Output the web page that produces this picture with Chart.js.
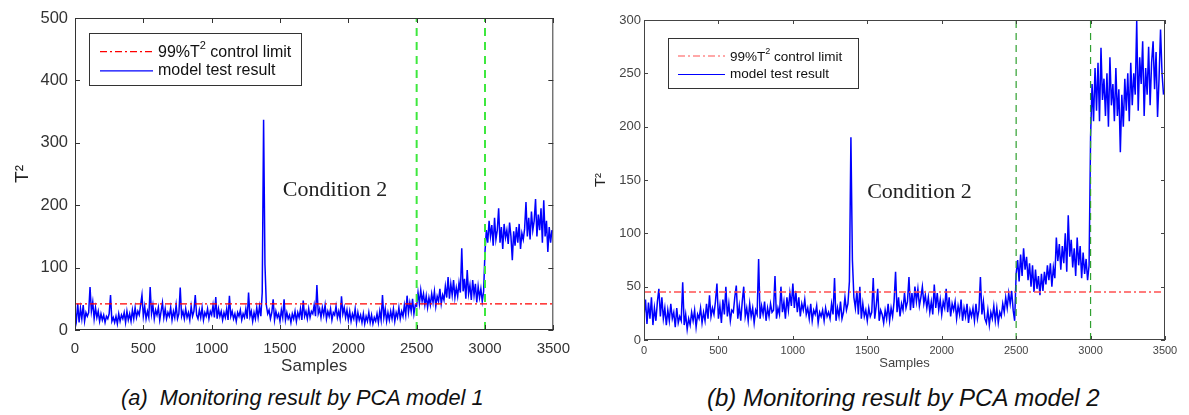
<!DOCTYPE html>
<html>
<head>
<meta charset="utf-8">
<script src="https://cdn.jsdelivr.net/npm/chart.js@4.4.1/dist/chart.umd.min.js"></script>
<style>
  html, body { margin: 0; padding: 0; background: #fff; }
  body { width: 1189px; height: 415px; position: relative; overflow: hidden; font-family: "Liberation Sans", Arial, sans-serif; }
  .panel { position: absolute; top: 0; }
  #wrapA { left: 0; }
  #wrapB { left: 590px; }
  .caption { position: absolute; font-style: italic; color: #111; white-space: pre; line-height: 1; }
</style>
</head>
<body>
<div class="panel" id="wrapA"><canvas id="chartA" width="580" height="378"></canvas></div>
<div class="panel" id="wrapB"><canvas id="chartB" width="599" height="378"></canvas></div>
<div class="caption" style="left:121px; top:387px; font-size:21.8px">(a)  Monitoring result by PCA model 1</div>
<div class="caption" style="left:707px; top:386px; font-size:24px">(b) Monitoring result by PCA model 2</div>
<script>
// sample spacing of the values below (one value read every 10 samples)
const STEP = 10;
const X_MAX = 3500;
const FAULT_STARTS = [2500, 3000];

// T2 statistic, PCA model 1 (samples 0..3490)
const model1T2 = [
  30,15,42,12,35,18,40,14,28,22,
  28,69,30,45,18,36,20,30,14,26,
  16,24,12,22,18,26,56,14,20,12,
  22,10,26,14,24,18,28,12,30,16,
  26,14,32,18,36,20,30,24,40,56,
  22,38,18,30,20,69,26,40,18,32,
  24,36,16,30,44,20,34,18,28,22,
  36,16,30,20,40,18,26,68,22,30,
  18,34,20,28,16,38,22,30,56,24,
  18,32,20,36,16,28,22,34,18,30,
  24,40,20,53,18,34,22,30,16,28,
  20,34,16,55,22,30,18,26,14,28,
  22,32,16,26,20,34,18,60,22,30,
  14,28,18,36,20,38,22,60,337,105,
  40,26,32,18,28,49,16,30,20,26,
  14,32,20,49,16,28,18,24,12,26,
  18,30,14,28,20,34,16,47,22,30,
  18,34,20,30,26,40,22,72,26,34,
  20,36,24,40,18,30,22,34,16,28,
  24,38,20,30,18,54,26,36,20,32,
  16,30,14,26,18,34,12,28,16,24,
  12,26,10,22,14,28,12,24,10,20,
  14,26,12,30,16,56,20,34,14,28,
  16,30,18,34,14,28,20,36,18,30,
  22,40,24,55,28,44,30,50,26,40,
  38,60,42,64,46,58,40,55,36,52,
  40,58,44,62,38,54,46,66,42,56,
  48,70,52,85,50,74,56,80,52,68,
  54,76,60,131,62,82,50,96,58,72,
  48,80,56,74,44,70,52,66,46,62,
  125,160,140,175,150,168,135,180,145,160,
  195,140,165,130,170,148,160,138,172,150,
  112,158,135,165,140,170,130,155,145,162,
  205,150,180,145,190,160,175,210,150,185,
  160,195,140,208,150,175,125,165,140,160
];

// T2 statistic, PCA model 2 (samples 0..3490)
const model2T2 = [
  22,38,15,35,20,40,14,30,18,36,
  48,22,40,20,30,14,28,18,34,20,
  26,12,30,16,22,18,54,14,24,10,
  20,14,26,18,28,12,24,20,30,16,
  26,18,34,20,42,22,30,24,36,53,
  20,32,16,38,24,50,22,34,18,28,
  26,40,51,20,32,18,36,50,22,30,
  18,34,22,30,16,28,24,76,20,32,
  24,36,18,30,22,34,26,28,60,20,
  30,24,50,26,36,20,40,28,44,32,
  53,30,46,26,40,22,34,28,38,24,
  30,20,34,18,28,24,32,16,26,22,
  28,18,30,22,26,20,34,24,58,18,
  30,22,36,20,26,40,28,34,55,190,
  75,40,30,46,24,50,20,34,22,28,
  18,30,22,26,58,20,32,48,18,28,
  24,16,28,20,34,18,30,22,36,64,
  26,40,22,34,28,44,30,36,59,28,
  44,30,50,36,48,32,40,50,34,42,
  30,40,26,36,24,52,30,44,28,38,
  24,36,30,48,26,40,22,34,28,36,
  20,32,24,38,18,30,22,34,16,28,
  22,30,18,34,20,28,59,24,36,20,
  16,28,14,26,20,32,18,30,16,26,
  22,34,26,40,30,44,34,46,28,18,
  62,75,55,80,60,86,66,78,56,72,
  50,70,45,66,48,60,42,62,46,64,
  52,70,56,72,50,68,58,96,74,90,
  66,88,72,100,64,117,78,94,68,86,
  60,96,70,88,58,82,62,76,56,70,
  190,240,205,255,215,260,205,274,225,245,
  210,250,200,265,220,240,205,255,210,235,
  176,230,200,245,215,250,205,260,220,250,
  230,299,215,265,240,280,210,255,230,275,
  220,260,280,235,270,209,245,291,250,230
];

// 99% control limits
const LIMIT_1 = 42;
const LIMIT_2 = 45;

const LEGEND_LABELS = ['99%T', ' control limit', 'model test result'];
const NOTE_TEXT = 'Condition 2';

// frame with inward ticks, boxed legend and the "Condition 2" note
const matlabFrame = {
    id: 'matlabFrame',
    afterDatasetsDraw(chart, args, o) {
        const { ctx, chartArea: a, scales: { x, y } } = chart;
        ctx.save();

        ctx.strokeStyle = o.frameColor;
        ctx.lineWidth = 1;
        ctx.strokeRect(a.left + 0.5, a.top + 0.5, a.right - a.left - 1, a.bottom - a.top - 1);
        ctx.beginPath();
        x.ticks.forEach(t => {
            const px = Math.round(x.getPixelForValue(t.value)) + 0.5;
            ctx.moveTo(px, a.bottom); ctx.lineTo(px, a.bottom - o.tick);
            ctx.moveTo(px, a.top); ctx.lineTo(px, a.top + o.tick);
        });
        y.ticks.forEach(t => {
            const py = Math.round(y.getPixelForValue(t.value)) + 0.5;
            ctx.moveTo(a.left, py); ctx.lineTo(a.left + o.tick, py);
            ctx.moveTo(a.right, py); ctx.lineTo(a.right - o.tick, py);
        });
        ctx.stroke();

        // legend box
        const lx = a.left + o.legend.dx, ly = a.top + o.legend.dy;
        ctx.fillStyle = '#fff';
        ctx.fillRect(lx, ly, o.legend.w, o.legend.h);
        ctx.strokeStyle = '#333';
        ctx.strokeRect(lx + 0.5, ly + 0.5, o.legend.w, o.legend.h);

        const rows = [ly + o.legend.h * 0.36, ly + o.legend.h * 0.73];
        const s0 = lx + o.legend.pad, s1 = s0 + o.legend.sample;
        ctx.lineWidth = 1.2;
        ctx.strokeStyle = o.redColor;
        ctx.setLineDash([7, 3, 2, 3]);
        ctx.beginPath(); ctx.moveTo(s0, rows[0]); ctx.lineTo(s1, rows[0]); ctx.stroke();
        ctx.setLineDash([]);
        ctx.strokeStyle = '#0000ff';
        ctx.beginPath(); ctx.moveTo(s0, rows[1]); ctx.lineTo(s1, rows[1]); ctx.stroke();

        const fs = o.legend.font;
        ctx.fillStyle = '#111';
        ctx.textBaseline = 'middle';
        ctx.textAlign = 'left';
        ctx.font = fs + 'px "Liberation Sans", Arial, sans-serif';
        let tx = s1 + 5;
        ctx.fillText(LEGEND_LABELS[0], tx, rows[0] + 1);
        tx += ctx.measureText(LEGEND_LABELS[0]).width;
        ctx.font = Math.round(fs * 0.7) + 'px "Liberation Sans", Arial, sans-serif';
        ctx.fillText('2', tx, rows[0] - fs * 0.35);
        tx += ctx.measureText('2').width;
        ctx.font = fs + 'px "Liberation Sans", Arial, sans-serif';
        ctx.fillText(LEGEND_LABELS[1], tx, rows[0] + 1);
        ctx.fillText(LEGEND_LABELS[2], s1 + 5, rows[1]);

        // note
        ctx.font = o.note.font + 'px "Liberation Serif", "DejaVu Serif", serif';
        ctx.fillStyle = '#222';
        ctx.fillText(NOTE_TEXT, x.getPixelForValue(o.note.x), y.getPixelForValue(o.note.y));

        ctx.restore();
    }
};

function makeChart(id, values, limit, cfg) {
    const series = values.map((v, i) => ({ x: i * STEP, y: v }));
    const vline = s => ({
        data: [{ x: s, y: 0 }, { x: s, y: cfg.yMax }],
        borderColor: cfg.green, borderWidth: cfg.greenWidth, borderDash: cfg.greenDash,
        pointRadius: 0, order: 0,
    });
    return new Chart(document.getElementById(id), {
        type: 'line',
        data: {
            datasets: [
                ...FAULT_STARTS.map(vline),
                {
                    label: '99%T2 control limit',
                    data: [{ x: 0, y: limit }, { x: X_MAX, y: limit }],
                    borderColor: cfg.red, borderWidth: 1.3, borderDash: [7, 3, 2, 3],
                    pointRadius: 0, order: 1,
                },
                {
                    label: 'model test result',
                    data: series,
                    borderColor: '#0000ff', borderWidth: 1.5,
                    pointRadius: 0, tension: 0, order: 2,
                },
            ],
        },
        options: {
            responsive: false,
            animation: false,
            layout: { padding: cfg.padding },
            plugins: {
                legend: { display: false },
                tooltip: { enabled: false },
                matlabFrame: cfg.frame,
            },
            scales: {
                x: {
                    type: 'linear', min: 0, max: X_MAX,
                    grid: { display: false, drawTicks: false }, border: { display: false },
                    ticks: { stepSize: 500, padding: cfg.xPad, color: cfg.tickColor, maxRotation: 0,
                             callback: v => String(v),
                             font: { family: 'Liberation Sans', size: cfg.xTickSize } },
                    title: { display: true, text: 'Samples', color: cfg.tickColor,
                             font: { family: 'Liberation Sans', size: cfg.xTitleSize },
                             padding: { top: 0, bottom: cfg.xTitleBottom } },
                    afterFit: s => { s.height = cfg.xHeight; },
                },
                y: {
                    min: 0, max: cfg.yMax,
                    grid: { display: false, drawTicks: false }, border: { display: false },
                    ticks: { stepSize: cfg.yStep, padding: cfg.yPad, color: cfg.tickColor,
                             callback: v => String(v),
                             font: { family: 'Liberation Sans', size: cfg.yTickSize } },
                    title: { display: true, text: 'T²', color: '#222',
                             font: { family: 'Liberation Sans', size: cfg.yTitleSize },
                             padding: { top: cfg.yTitleTop, bottom: 0 } },
                    afterFit: s => { s.width = cfg.yWidth; },
                },
            },
        },
        plugins: [matlabFrame],
    });
}

makeChart('chartA', model1T2, LIMIT_1, {
    yMax: 500, yStep: 100,
    padding: { top: 18, right: 16, left: 0, bottom: 0 },
    yWidth: 75, xHeight: 48,
    xPad: 10, yPad: 7, xTickSize: 15, yTickSize: 16.5, xTitleSize: 17, yTitleSize: 19,
    xTitleBottom: 1, yTitleTop: 11,
    tickColor: '#333', red: '#ff0000', green: '#3ee83e', greenWidth: 2, greenDash: [8, 6],
    frame: {
        frameColor: '#333', tick: 5, redColor: '#ff0000',
        legend: { dx: 14, dy: 15, w: 212, h: 52, pad: 11, sample: 53, font: 16 },
        note: { x: 1521, y: 224, font: 22 },
    },
});

makeChart('chartB', model2T2, LIMIT_2, {
    yMax: 300, yStep: 50,
    padding: { top: 20, right: 24, left: 0, bottom: 0 },
    yWidth: 54, xHeight: 38,
    xPad: 4, yPad: 3, xTickSize: 11, yTickSize: 13, xTitleSize: 13, yTitleSize: 15,
    xTitleBottom: 7, yTitleTop: 2,
    tickColor: '#444', red: '#ff5050', green: '#30a030', greenWidth: 1.2, greenDash: [7, 5],
    frame: {
        frameColor: '#444', tick: 4, redColor: '#ff5050',
        legend: { dx: 24, dy: 18, w: 190, h: 50, pad: 10, sample: 47, font: 13.5 },
        note: { x: 1499, y: 139, font: 22 },
    },
});
</script>
</body>
</html>
